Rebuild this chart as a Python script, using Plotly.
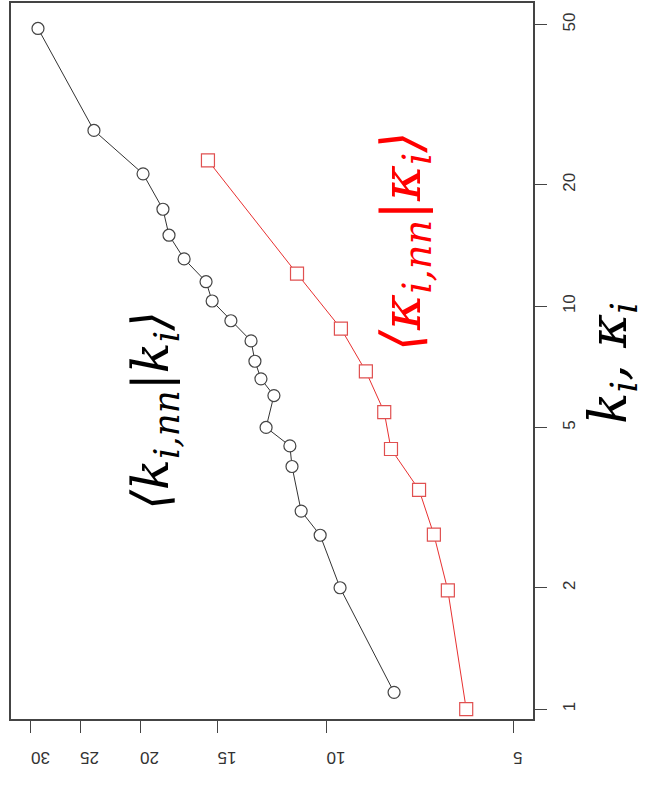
import plotly.graph_objects as go

# degree (k) values and mean neighbour degree for the black series
k_black = [1.1, 2.0, 2.7, 3.1, 4.0, 4.5, 5.0, 6.0, 6.6, 7.3, 8.2, 9.2, 10.3, 11.5,
           13.1, 15.0, 17.4, 21.3, 27.3, 48.9]
knn_black = [7.78, 9.51, 10.24, 10.99, 11.37, 11.46, 12.52, 12.16, 12.76, 13.05,
             13.24, 14.27, 15.30, 15.65, 16.98, 17.96, 18.37, 19.78, 23.74, 29.23]

# kappa values and mean neighbour kappa for the red series
k_red = [1.0, 1.97, 2.71, 3.50, 4.42, 5.46, 6.89, 8.80, 12.04, 23.0]
knn_red = [5.95, 6.37, 6.71, 7.09, 7.87, 8.07, 8.64, 9.48, 11.16, 15.54]

value_ticks = [5, 10, 15, 20, 25, 30]
k_ticks = [1, 2, 5, 10, 20, 50]

fig = go.Figure()
fig.add_trace(go.Scatter(
    x=knn_black, y=k_black, mode="lines+markers",
    line=dict(color="#333333", width=1),
    marker=dict(symbol="circle", size=12, color="white",
                line=dict(color="#444444", width=1.2)),
    showlegend=False))
fig.add_trace(go.Scatter(
    x=knn_red, y=k_red, mode="lines+markers",
    line=dict(color="#e83030", width=1),
    marker=dict(symbol="square", size=13, color="white",
                line=dict(color="#e05050", width=1.2)),
    showlegend=False))

def px(x):
    return (x - 11) / 522

def py(y):
    return (719 - y) / 718

fig.add_annotation(xref="paper", yref="paper", x=px(154), y=py(410),
                   xanchor="center", yanchor="middle",
                   text="<i>⟨k<sub>i,nn</sub>|k<sub>i</sub>⟩</i>", showarrow=False,
                   textangle=-90, font=dict(family="DejaVu Serif", size=51, color="black"))
fig.add_annotation(xref="paper", yref="paper", x=px(405), y=py(240),
                   xanchor="center", yanchor="middle",
                   text="<i>⟨κ<sub>i,nn</sub>|κ<sub>i</sub>⟩</i>", showarrow=False,
                   textangle=-90, font=dict(family="DejaVu Serif", size=55, color="#ff0000"))
fig.add_annotation(xref="paper", yref="paper", x=px(612), y=py(362),
                   xanchor="center", yanchor="middle",
                   text="<i>k<sub>i</sub>, κ<sub>i</sub></i>", showarrow=False,
                   textangle=-90, font=dict(family="DejaVu Serif", size=52, color="black"))

fig.update_xaxes(type="log", range=[1.5094, 0.6667],
                 tickvals=value_ticks, ticktext=[str(v) for v in value_ticks],
                 ticks="outside", ticklen=12, tickcolor="#444", tickangle=180,
                 tickfont=dict(family="Liberation Sans", size=17, color="#333"),
                 ticklabelstandoff=16,
                 showline=True, linecolor="#444", linewidth=1.5, mirror=True,
                 showgrid=False, zeroline=False)
fig.update_yaxes(type="log", range=[-0.0247, 1.7525], side="right",
                 tickvals=k_ticks, ticktext=[str(v) for v in k_ticks],
                 ticks="outside", ticklen=12, tickcolor="#444", tickangle=-90,
                 tickfont=dict(family="Liberation Sans", size=17, color="#333"),
                 ticklabelstandoff=8,
                 showline=True, linecolor="#444", linewidth=1.5, mirror=True,
                 showgrid=False, zeroline=False)

fig.update_layout(width=649, height=785, margin=dict(l=11, r=116, t=1, b=66),
                  plot_bgcolor="white", paper_bgcolor="white")
fig.write_html("out.html", config={"displayModeBar": False},
               post_script="document.body.style.margin='0px';")
